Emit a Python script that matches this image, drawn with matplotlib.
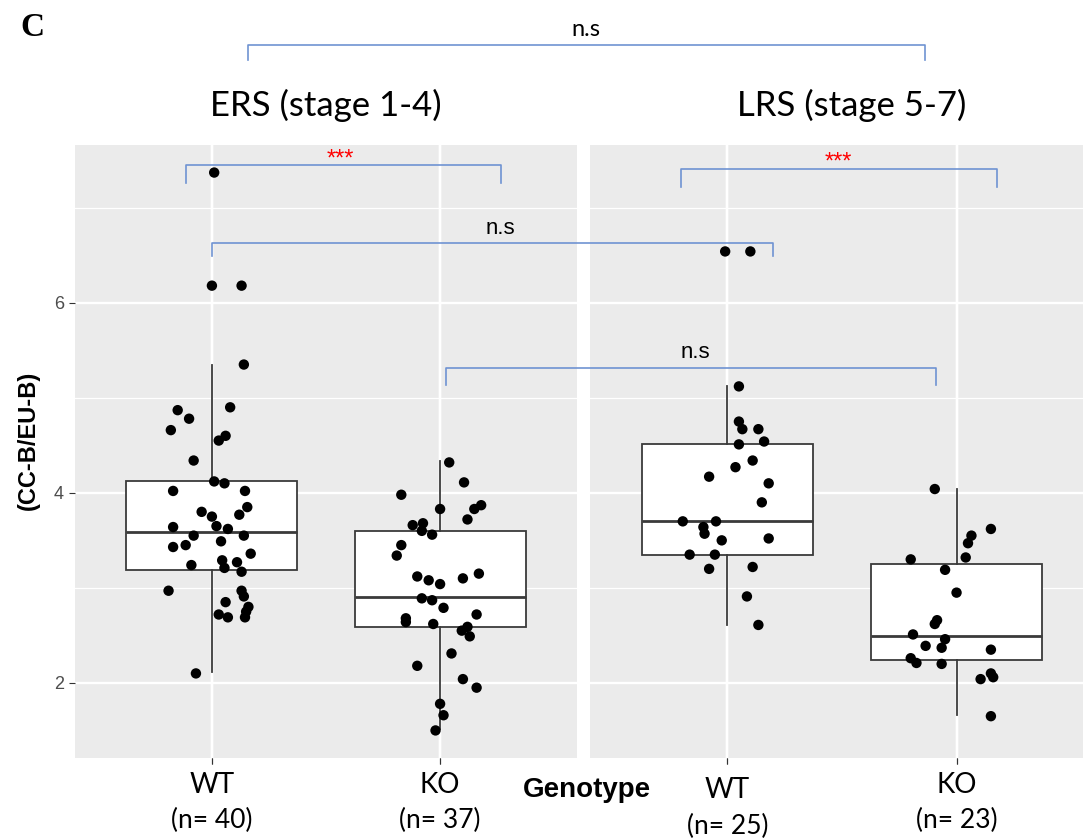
import matplotlib
matplotlib.use("Agg")
import matplotlib.pyplot as plt
from matplotlib.lines import Line2D

# ---------------- data ----------------
panel_titles = ["ERS (stage 1-4)", "LRS (stage 5-7)"]
genotypes = ["WT", "KO"]
n_labels = [["(n= 40)", "(n= 37)"], ["(n= 25)", "(n= 23)"]]
y_ticks = [2, 4, 6]

# box statistics: lower whisker, Q1, median, Q3, upper whisker
ers_wt_box = [2.12, 3.19, 3.59, 4.12, 5.35]
ers_ko_box = [1.52, 2.59, 2.90, 3.60, 4.33]
lrs_wt_box = [2.61, 3.35, 3.70, 4.51, 5.12]
lrs_ko_box = [1.66, 2.24, 2.49, 3.25, 4.04]

# individual measurements and their horizontal jitter
ers_wt_vals = [7.37, 6.18, 6.18, 5.35, 4.90, 4.87, 4.78, 4.66, 4.60, 4.55,
               4.34, 4.12, 4.10, 4.02, 4.02, 3.85, 3.80, 3.77, 3.75, 3.65,
               3.64, 3.62, 3.55, 3.55, 3.49, 3.45, 3.43, 3.36, 3.29, 3.27,
               3.24, 3.21, 3.17, 2.97, 2.97, 2.91, 2.85, 2.80, 2.75, 2.72,
               2.69, 2.69, 2.10]
ers_wt_jit = [0.01, 0.00, 0.13, 0.14, 0.08, -0.15, -0.10, -0.18, 0.06, 0.03,
              -0.08, 0.01, 0.055, -0.17, 0.145, 0.155, -0.045, 0.12, 0.00, 0.02,
              -0.17, 0.07, -0.08, 0.14, 0.04, -0.115, -0.17, 0.17, 0.045, 0.11,
              -0.09, 0.055, 0.13, -0.19, 0.13, 0.14, 0.06, 0.16, 0.15, 0.03,
              0.07, 0.145, -0.07]

ers_ko_vals = [4.32, 4.11, 3.98, 3.87, 3.83, 3.83, 3.72, 3.68, 3.66, 3.60,
               3.56, 3.45, 3.34, 3.15, 3.12, 3.10, 3.08, 3.04, 2.89, 2.87,
               2.79, 2.72, 2.68, 2.64, 2.62, 2.59, 2.55, 2.49, 2.31, 2.18,
               2.04, 1.95, 1.78, 1.66, 1.50]
ers_ko_jit = [0.04, 0.105, -0.17, 0.18, 0.00, 0.15, 0.12, -0.075, -0.12, -0.08,
              -0.035, -0.17, -0.19, 0.17, -0.10, 0.10, -0.05, 0.00, -0.08, -0.035,
              0.015, 0.16, -0.15, -0.15, -0.03, 0.12, 0.095, 0.13, 0.05, -0.10,
              0.10, 0.16, 0.00, 0.015, -0.02]

lrs_wt_vals = [6.54, 6.54, 5.12, 4.75, 4.67, 4.67, 4.54, 4.51, 4.34, 4.27,
               4.17, 4.10, 3.90, 3.70, 3.70, 3.64, 3.57, 3.52, 3.50, 3.35,
               3.35, 3.22, 3.20, 2.91, 2.61]
lrs_wt_jit = [-0.01, 0.10, 0.05, 0.05, 0.065, 0.135, 0.16, 0.05, 0.11, 0.035,
              -0.08, 0.18, 0.15, -0.195, -0.05, -0.105, -0.10, 0.18, -0.025, -0.165,
              -0.055, 0.11, -0.08, 0.085, 0.135]

lrs_ko_vals = [4.04, 3.62, 3.55, 3.47, 3.32, 3.30, 3.19, 2.95, 2.66, 2.62,
               2.51, 2.46, 2.39, 2.37, 2.35, 2.26, 2.21, 2.20, 2.10, 2.06,
               2.04, 1.65]
lrs_ko_jit = [-0.095, 0.15, 0.065, 0.05, 0.04, -0.20, -0.05, 0.00, -0.085, -0.095,
              -0.19, -0.05, -0.135, -0.065, 0.15, -0.20, -0.175, -0.065, 0.15, 0.16,
              0.105, 0.15]

# ---------------- figure ----------------
W, H = 1083, 839
fig = plt.figure(figsize=(W / 100, H / 100), dpi=100)
fig.patch.set_facecolor("white")


def fx(px):
    return px / W


def fy(py):
    return 1 - py / H


panel_bg = "#EBEBEB"
box_edge = "#3A3A3A"
bracket_col = "#6F93D2"
label_font = ["Lato", "DejaVu Sans"]
sans_font = ["Liberation Sans", "DejaVu Sans"]

ax_l = fig.add_axes([fx(75), fy(758), fx(577) - fx(75), fy(145) - fy(758)])
ax_r = fig.add_axes([fx(590), fy(758), fx(1094) - fx(590), fy(145) - fy(758)])

panels = [
    (ax_l, [ers_wt_box, ers_ko_box], [(ers_wt_vals, ers_wt_jit), (ers_ko_vals, ers_ko_jit)]),
    (ax_r, [lrs_wt_box, lrs_ko_box], [(lrs_wt_vals, lrs_wt_jit), (lrs_ko_vals, lrs_ko_jit)]),
]

for ax, boxes, points in panels:
    ax.set_facecolor(panel_bg)
    ax.set_xlim(0.4, 2.6)
    ax.set_ylim(1.21, 7.66)
    for s in ax.spines.values():
        s.set_visible(False)

    ax.set_yticks(y_ticks)
    ax.set_yticks([3, 5, 7], minor=True)
    ax.set_xticks([1, 2])
    ax.grid(which="major", color="white", lw=1.7, zorder=0)
    ax.grid(which="minor", axis="y", color="white", lw=0.9, zorder=0)
    ax.set_axisbelow(True)
    ax.tick_params(axis="x", length=4, color="#333333", labelbottom=False)
    ax.tick_params(axis="y", which="minor", length=0)

    stats = []
    for b in boxes:
        stats.append(dict(whislo=b[0], q1=b[1], med=b[2], q3=b[3], whishi=b[4], fliers=[]))
    ax.bxp(stats, positions=[1, 2], widths=0.75, showcaps=False, showfliers=False,
           patch_artist=True,
           boxprops=dict(facecolor="white", edgecolor=box_edge, lw=1.3),
           medianprops=dict(color=box_edge, lw=2.0),
           whiskerprops=dict(color=box_edge, lw=1.3),
           zorder=2)

    for i, (vals, jit) in enumerate(points):
        xs = [i + 1 + j for j in jit]
        ax.scatter(xs, vals, s=56, color="black", edgecolors="none", zorder=3)

ax_l.tick_params(axis="y", length=4, color="#333333", labelcolor="#4D4D4D",
                 labelsize=13, pad=4)
for lbl in ax_l.get_yticklabels():
    lbl.set_family(sans_font)
ax_r.tick_params(axis="y", which="both", length=0, labelleft=False)

# y-axis title
fig.text(fx(28), fy(440), "(CC-B/EU-B)", rotation=90, ha="center", va="center",
         fontsize=17, fontweight="bold", family=sans_font)

# x category labels with sample sizes
label_rows = [[(785, 820), (785, 820)], [(790, 826), (785, 820)]]
for p, ax in enumerate([ax_l, ax_r]):
    for g, name in enumerate(genotypes):
        xpix = ax.transData.transform((g + 1, 0))[0]
        y1, y2 = label_rows[p][g]
        fig.text(xpix / W, fy(y1), name, ha="center", va="center",
                 fontsize=20, family=label_font, color="black")
        fig.text(xpix / W, fy(y2), n_labels[p][g], ha="center", va="center",
                 fontsize=19, family=label_font, color="black")

fig.text(fx(587), fy(790), "Genotype", ha="center", va="center", fontsize=20,
         fontweight="bold", family=sans_font)

# panel titles
fig.text(fx(326), fy(105), panel_titles[0], ha="center", va="center",
         fontsize=25, family=label_font)
fig.text(fx(852), fy(105), panel_titles[1], ha="center", va="center",
         fontsize=25, family=label_font)

# panel letter
fig.text(fx(20), fy(27), "C", ha="left", va="center", fontsize=24,
         fontweight="bold", family=["Liberation Serif", "DejaVu Serif"])


# significance brackets
def bracket(x0, x1, y, y0_end, y1_end, text, tx, ty, color="black", size=14,
            family=("Liberation Sans", "DejaVu Sans")):
    fig.add_artist(Line2D([fx(x0), fx(x0), fx(x1), fx(x1)],
                          [fy(y0_end), fy(y), fy(y), fy(y1_end)],
                          color=bracket_col, lw=1.2, transform=fig.transFigure))
    fig.text(fx(tx), fy(ty), text, ha="center", va="center", fontsize=size,
             color=color, family=list(family))


bracket(248, 925, 45, 60, 60, "n.s", 586, 29, size=17, family=("Lato", "DejaVu Sans"))
bracket(186, 501, 165, 183, 183, "***", 340, 160, color="red", size=17)
bracket(681, 997, 169, 187, 187, "***", 838, 163, color="red", size=17)
bracket(212, 773, 243, 256, 256, "n.s", 500, 229, size=16)
bracket(446, 936, 368, 385, 385, "n.s", 695, 352, size=16)

fig.savefig("out.png", dpi=100)
